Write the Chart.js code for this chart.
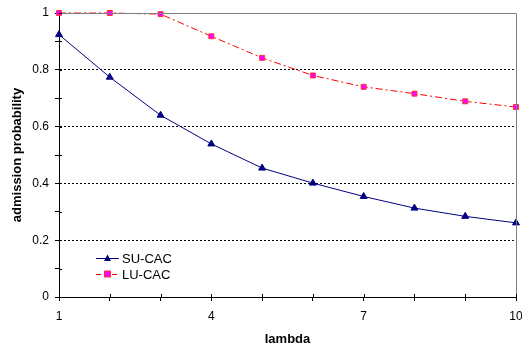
<!DOCTYPE html>
<html>
<head>
<meta charset="utf-8">
<script src="https://cdn.jsdelivr.net/npm/chart.js@4/dist/chart.umd.min.js"></script>
<style>
  html, body { margin: 0; padding: 0; background: #fff; }
  #wrap { width: 522px; height: 347px; }
</style>
</head>
<body>
<div id="wrap"><canvas id="admission"></canvas></div>
<script>
const lambdas = [1, 2, 3, 4, 5, 6, 7, 8, 9, 10];
const suCac = [0.924, 0.774, 0.640, 0.539, 0.454, 0.401, 0.354, 0.313, 0.284, 0.261];
const luCac = [1.0, 1.0, 0.996, 0.918, 0.842, 0.780, 0.740, 0.716, 0.689, 0.669];
const xLabels = [1, 4, 7, 10];
const yLabels = [0, 0.2, 0.4, 0.6, 0.8, 1];

const fontName = '"Liberation Sans", Arial, sans-serif';

// legend inside the plot + gray top/right frame + ticks crossing the axes
const frameAndLegend = {
    id: 'frameAndLegend',
    afterDraw(chart) {
        const ctx = chart.ctx;
        const a = chart.chartArea;
        const xs = chart.scales.x;
        const ys = chart.scales.y;
        ctx.save();
        ctx.strokeStyle = '#808080';
        ctx.lineWidth = 1;
        ctx.beginPath();
        ctx.moveTo(a.left, a.top + 0.5);
        ctx.lineTo(a.right + 0.5, a.top + 0.5);
        ctx.lineTo(a.right + 0.5, a.bottom);
        ctx.stroke();

        ctx.strokeStyle = '#000';
        ctx.beginPath();
        lambdas.forEach(v => {
            const px = Math.round(xs.getPixelForValue(v)) + 0.5;
            ctx.moveTo(px, a.bottom);
            ctx.lineTo(px, a.bottom - 3);
        });
        for (let k = 0; k <= 10; k++) {
            const py = Math.round(ys.getPixelForValue(k / 10)) + 0.5;
            ctx.moveTo(a.left, py);
            ctx.lineTo(a.left + 3, py);
        }
        ctx.stroke();

        const items = chart.data.datasets;
        const lx = 96, lw = 23;
        const rows = [258, 274];
        ctx.font = '13px ' + fontName;
        ctx.textBaseline = 'middle';
        items.forEach((ds, i) => {
            const y = rows[i];
            ctx.strokeStyle = ds.borderColor;
            ctx.lineWidth = 1;
            ctx.setLineDash(i === 1 ? [5, 3] : []);
            ctx.beginPath();
            ctx.moveTo(lx, y + 0.5);
            ctx.lineTo(lx + lw, y + 0.5);
            ctx.stroke();
            ctx.setLineDash([]);
            const cx = lx + lw / 2;
            ctx.fillStyle = ds.pointBackgroundColor;
            ctx.strokeStyle = ds.pointBorderColor;
            if (i === 0) {
                ctx.beginPath();
                ctx.moveTo(cx, y - 3.5);
                ctx.lineTo(cx + 3.5, y + 3);
                ctx.lineTo(cx - 3.5, y + 3);
                ctx.closePath();
                ctx.fill();
            } else {
                ctx.fillRect(cx - 3, y - 3, 6, 6);
                ctx.strokeRect(cx - 3, y - 3, 6, 6);
            }
            ctx.fillStyle = '#000';
            ctx.fillText(ds.label, lx + lw + 3, y + 1);
        });
        ctx.restore();
    }
};

new Chart(document.getElementById('admission').getContext('2d'), {
    type: 'line',
    data: {
        datasets: [{
            label: 'SU-CAC',
            data: lambdas.map((x, i) => ({ x: x, y: suCac[i] })),
            borderColor: '#000080',
            borderWidth: 1,
            clip: false,
            pointStyle: 'triangle',
            pointRadius: 4,
            pointBackgroundColor: '#000080',
            pointBorderColor: '#000080',
            pointBorderWidth: 1
        }, {
            label: 'LU-CAC',
            data: lambdas.map((x, i) => ({ x: x, y: luCac[i] })),
            borderColor: '#ff0000',
            borderWidth: 1,
            borderDash: [7, 3, 2, 3],
            clip: false,
            pointStyle: 'rect',
            pointRadius: 3.5,
            pointBackgroundColor: '#ff00ff',
            pointBorderColor: '#ff3333',
            pointBorderWidth: 1
        }]
    },
    options: {
        responsive: true,
        maintainAspectRatio: false,
        animation: false,
        layout: { padding: { top: 13, right: 6, left: 0, bottom: 0 } },
        plugins: {
            legend: { display: false },
            tooltip: { enabled: false }
        },
        scales: {
            x: {
                type: 'linear',
                min: 1,
                max: 10,
                afterFit(scale) {
                    scale.height = 50;
                    scale.paddingLeft = 0;
                    scale.paddingRight = 0;
                },
                border: { display: true, color: '#000', width: 1 },
                grid: { display: true, drawOnChartArea: false, tickLength: 4, color: '#000' },
                ticks: {
                    stepSize: 1,
                    autoSkip: false,
                    maxRotation: 0,
                    padding: 8,
                    color: '#000',
                    font: { family: fontName, size: 12 },
                    callback: v => xLabels.includes(v) ? String(v) : ''
                },
                title: {
                    display: true,
                    text: 'lambda',
                    color: '#000',
                    font: { family: fontName, size: 13, weight: 'bold' },
                    padding: { top: 0, bottom: 0 }
                }
            },
            y: {
                min: 0,
                max: 1,
                afterFit(scale) {
                    scale.width = 59;
                    scale.paddingTop = 0;
                    scale.paddingBottom = 0;
                },
                border: { display: true, color: '#000', width: 1, dash: [2, 2] },
                grid: {
                    tickLength: 4,
                    tickColor: '#000',
                    color: ctx => {
                        const k = Math.round(ctx.tick.value * 10);
                        return (k % 2 === 0 && k > 0 && k < 10) ? '#000' : 'rgba(0,0,0,0)';
                    },
                    tickBorderDash: [],
                    lineWidth: 1
                },
                ticks: {
                    stepSize: 0.1,
                    autoSkip: false,
                    padding: 6,
                    color: '#000',
                    font: { family: fontName, size: 12 },
                    callback: v => {
                        const r = Math.round(v * 10) / 10;
                        return yLabels.includes(r) ? String(r) : '';
                    }
                },
                title: {
                    display: true,
                    text: 'admission probability',
                    color: '#000',
                    font: { family: fontName, size: 13, weight: 'bold' },
                    padding: { top: 10, bottom: 0 }
                }
            }
        }
    },
    plugins: [frameAndLegend]
});
</script>
</body>
</html>
